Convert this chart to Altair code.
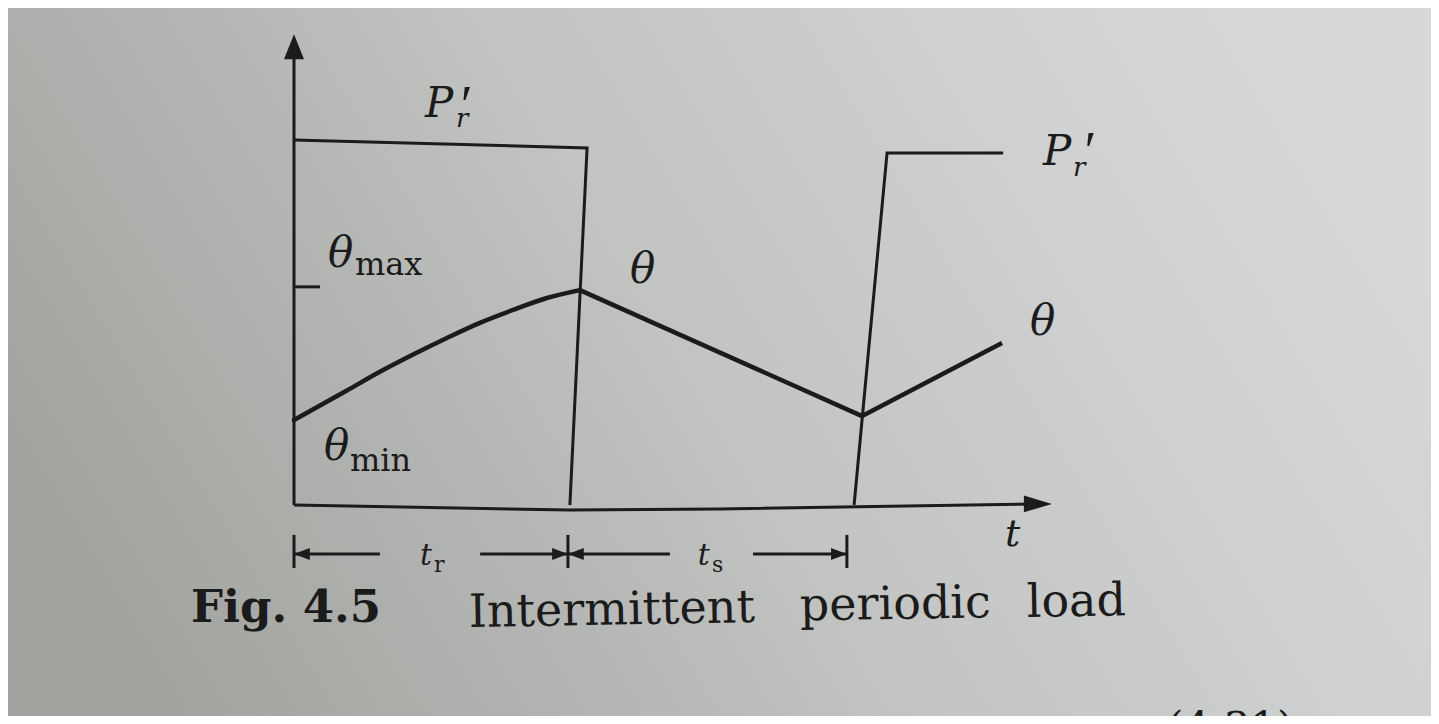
import altair as alt
import pandas as pd

# ---- diagram data (time in units of t_r, amplitude in units of P'r) ----
# time axis and amplitude axis
axis_t_t = [0.0, 0.996, 1.538, 2.70]
axis_t_a = [0.0, -0.014, -0.011, 0.003]
axis_a_t = [0.0, 0.0]
axis_a_a = [0.0, 1.27]

# load P'r : first pulse (on during t_r) and start of the next pulse
pulse1_t = [0.0, 1.058, 0.996]
pulse1_a = [1.014, 0.992, 0.0]
pulse2_t = [2.022, 2.141, 2.560]
pulse2_a = [0.0, 0.978, 0.978]

# temperature rise theta: heating during t_r (curved), then cooling and reheating (straight)
theta_heat_t = [0.0, 0.191, 0.310, 0.430, 0.552, 0.671, 0.791, 0.913, 1.032]
theta_heat_a = [0.236, 0.318, 0.370, 0.418, 0.464, 0.506, 0.542, 0.575, 0.597]
theta_rest_t = [1.032, 2.051, 2.556]
theta_rest_a = [0.597, 0.247, 0.450]

# theta_max tick on the vertical axis
tick_t = [0.0, 0.094]
tick_a = [0.606, 0.606]

# dimension lines for t_r and t_s
dim_bar_t = [0.0, 0.989, 1.996]
dim_bar_a = [-0.083, -0.175]
dim_a = -0.136
dim_shafts = [(0.0, 0.310), (0.672, 0.989), (0.989, 1.357), (1.657, 1.996)]

# label positions (t, a) and texts
lab_italic = [
    ("P", 0.473, 1.078, 42), ("r", 0.585, 1.050, 26),
    ("θ", 0.123, 0.661, 42), ("θ", 0.108, 0.125, 42),
    ("θ", 1.213, 0.617, 42), ("θ", 2.657, 0.472, 42),
    ("P", 2.704, 0.944, 42), ("r", 2.812, 0.915, 26),
    ("t", 2.567, -0.114, 38),
    ("t", 0.455, -0.167, 30), ("t", 1.458, -0.167, 30),
]
lab_prime = [("′", 0.590, 1.062, 54), ("′", 2.842, 0.932, 54)]
lab_upright = [
    ("max", 0.220, 0.639, 32), ("min", 0.202, 0.094, 32),
    ("r", 0.505, -0.186, 22), ("s", 1.509, -0.186, 22),
    ("(4.31)", 3.152, -0.658, 42),
]
caption_bold = [("Fig. 4.5", -0.372, -0.325, 45)]
caption_words = [("Intermittent", 0.632, -0.339), ("periodic", 1.827, -0.321), ("load", 2.646, -0.311)]

# ---- layout ----
W, H = 1423, 708
X_DOM = [-1.0325, 4.1047]
Y_DOM = [-0.5861, 1.3806]
INK = "#1b1b1b"
FONT = "DejaVu Serif"

xs = alt.Scale(domain=X_DOM, nice=False, zero=False)
ys = alt.Scale(domain=Y_DOM, nice=False, zero=False)


def seg_rows(name, ts, as_):
    return [{"seg": name, "ord": i, "t": t, "a": a} for i, (t, a) in enumerate(zip(ts, as_))]


rows = []
rows += seg_rows("axis_t", axis_t_t, axis_t_a)
rows += seg_rows("axis_a", axis_a_t, axis_a_a)
rows += seg_rows("pulse1", pulse1_t, pulse1_a)
rows += seg_rows("pulse2", pulse2_t, pulse2_a)
rows += seg_rows("tick", tick_t, tick_a)
for i, (t0, t1) in enumerate(dim_shafts):
    rows += seg_rows(f"shaft{i}", [t0, t1], [dim_a, dim_a])
for i, t in enumerate(dim_bar_t):
    rows += seg_rows(f"bar{i}", [t, t], dim_bar_a)
lines_df = pd.DataFrame(rows)
heat_df = pd.DataFrame(seg_rows("heat", theta_heat_t, theta_heat_a))
rest_df = pd.DataFrame(seg_rows("rest", theta_rest_t, theta_rest_a))

X = alt.X("t:Q", scale=xs, axis=None)
Y = alt.Y("a:Q", scale=ys, axis=None)

bg = alt.Chart(pd.DataFrame({"k": [0]})).mark_rect(
    color=alt.Gradient(
        gradient="linear",
        x1=0, y1=0.65, x2=1, y2=0.35,
        stops=[
            alt.GradientStop(color="#a1a39f", offset=0),
            alt.GradientStop(color="#b1b3b0", offset=0.25),
            alt.GradientStop(color="#c3c5c3", offset=0.5),
            alt.GradientStop(color="#cdcfd0", offset=0.75),
            alt.GradientStop(color="#d6d8da", offset=1),
        ],
    )
).encode(x=alt.value(0), x2=alt.value(W), y=alt.value(0), y2=alt.value(H))

lines = alt.Chart(lines_df).mark_line(color=INK, strokeWidth=3).encode(
    x=X, y=Y, detail="seg:N", order="ord:Q"
)
heat_line = alt.Chart(heat_df).mark_line(color=INK, strokeWidth=4.5, interpolate="monotone",
                                         strokeCap="round").encode(x=X, y=Y, order="ord:Q")
rest_line = alt.Chart(rest_df).mark_line(color=INK, strokeWidth=4.5, interpolate="linear",
                                         strokeJoin="round").encode(x=X, y=Y, order="ord:Q")

ARROW_UP = "M0,0L-0.4,1L0.4,1Z"
ARROW_RIGHT = "M0,0L-1,-0.3L-1,0.3Z"
SMALL_LEFT = "M0,0L1,-0.38L1,0.38Z"
SMALL_RIGHT = "M0,0L-1,-0.38L-1,0.38Z"

up_df = pd.DataFrame({"t": [0.0], "a": [1.308]})
right_df = pd.DataFrame({"t": [2.736], "a": [0.003]})
sl_df = pd.DataFrame({"t": [0.0, 0.989], "a": [dim_a, dim_a]})
sr_df = pd.DataFrame({"t": [0.989, 1.996], "a": [dim_a, dim_a]})


def head(df, shape, size):
    return alt.Chart(df).mark_point(shape=shape, size=size, filled=True, color=INK, opacity=1,
                                    strokeWidth=0).encode(x=X, y=Y)


heads = [
    head(up_df, ARROW_UP, 2500),
    head(right_df, ARROW_RIGHT, 3136),
    head(sl_df, SMALL_LEFT, 1000),
    head(sr_df, SMALL_RIGHT, 1000),
]


def text_layer(items, style="normal", weight="normal", angle=0, clip=False, font=FONT):
    df = pd.DataFrame(items, columns=["txt", "t", "a", "fs"])
    return alt.Chart(df).mark_text(
        font=font, fontStyle=style, fontWeight=weight, align="left", baseline="alphabetic",
        color=INK, angle=angle, clip=clip
    ).encode(x=X, y=Y, text="txt:N", size=alt.Size("fs:Q", scale=None, legend=None))


t_ital = text_layer(lab_italic, style="italic")
t_prime = text_layer(lab_prime, style="italic", font="Liberation Serif")
t_up = text_layer(lab_upright, clip=True)
t_bold = text_layer(caption_bold, weight="bold")
t_cap = text_layer([(w, t, a, 46) for (w, t, a) in caption_words], angle=359)

chart = alt.layer(bg, lines, heat_line, rest_line, *heads, t_ital, t_prime, t_up, t_bold, t_cap).properties(
    width=W, height=H, padding=0, autosize=alt.AutoSizeParams(type="none")
).configure_view(stroke=None)

chart.save("out.html", embed_options={"renderer": "svg", "actions": False})
